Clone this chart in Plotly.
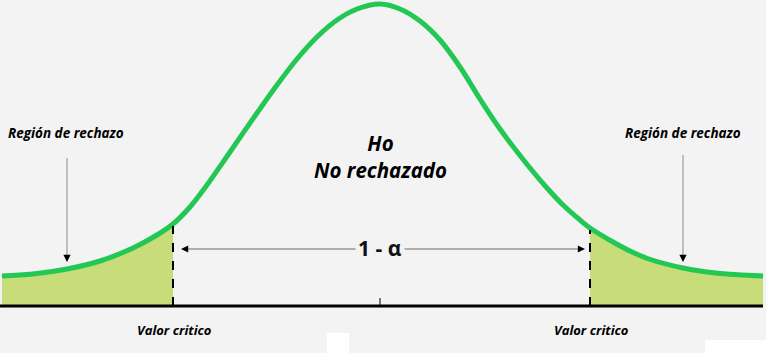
import plotly.graph_objects as go

# Curve: horizontal position and height above the baseline
curve_x = [2, 33, 67, 100, 133, 157, 173, 190, 207, 230, 257, 277, 297, 317, 337, 357, 380,
           400, 420, 440, 460, 480, 500, 530, 547, 563, 580, 590, 613, 630, 649, 683, 716, 763]
curve_h = [30, 32, 37, 45, 58, 71, 82, 99, 121, 154, 193, 221, 247, 269, 286, 297, 302,
           297, 285, 266, 239, 207, 177, 138, 118, 101, 86, 78, 64, 55, 47, 38, 33, 30]

crit_left = 173
crit_right = 590
center = 380

BG = "#f3f3f3"
GREEN = "#22c853"
FILL = "#c8dc7a"

fig = go.Figure()

left_x = [x for x in curve_x if x <= crit_left]
left_h = [h for x, h in zip(curve_x, curve_h) if x <= crit_left]
right_x = [x for x in curve_x if x >= crit_right]
right_h = [h for x, h in zip(curve_x, curve_h) if x >= crit_right]

for xs, hs in [(left_x, left_h), (right_x, right_h)]:
    fig.add_trace(go.Scatter(x=xs, y=hs, mode="lines", fill="tozeroy",
                             fillcolor=FILL, line=dict(width=0, shape="spline"),
                             hoverinfo="skip", showlegend=False))

fig.add_trace(go.Scatter(x=curve_x, y=curve_h, mode="lines",
                         line=dict(color=GREEN, width=5, shape="spline"),
                         hoverinfo="skip", showlegend=False))

shapes = []
# baseline
shapes.append(dict(type="line", x0=0, x1=763, y0=0, y1=0, line=dict(color="black", width=3), layer="above"))
# centre tick
shapes.append(dict(type="line", x0=center, x1=center, y0=0, y1=8, line=dict(color="black", width=1)))
# dashed critical lines
h_left = curve_h[curve_x.index(crit_left)]
h_right = curve_h[curve_x.index(crit_right)]
shapes.append(dict(type="line", x0=crit_left, x1=crit_left, y0=0, y1=h_left - 2,
                   line=dict(color="black", width=2, dash="dash")))
shapes.append(dict(type="line", x0=crit_right, x1=crit_right, y0=0, y1=h_right - 2,
                   line=dict(color="black", width=2, dash="dash")))
# 1 - alpha horizontal line
shapes.append(dict(type="line", x0=183, x1=583, y0=57, y1=57, line=dict(color="#6a6a6a", width=1)))
# rejection region pointers (gray shafts)
shapes.append(dict(type="line", x0=67, x1=67, y0=148, y1=50, line=dict(color="#8a8a8a", width=1)))
shapes.append(dict(type="line", x0=683, x1=683, y0=151, y1=50, line=dict(color="#8a8a8a", width=1)))
# white artefact patches at the bottom
shapes.append(dict(type="rect", x0=327, x1=349, y0=-27, y1=-47, fillcolor="white", line=dict(width=0)))
shapes.append(dict(type="rect", x0=705, x1=766, y0=-34, y1=-47, fillcolor="white", line=dict(width=0)))

FONT = "Open Sans"
ann = []
ann.append(dict(x=center, y=150, text="Ho<br>No rechazado", showarrow=False, align="center",
                font=dict(family=FONT, size=20.5, color="black", weight="bold", style="italic")))
ann.append(dict(x=center, y=58, text="1 - α", showarrow=False, bgcolor=BG, borderpad=2,
                font=dict(family=FONT, size=21, color="#111111", weight="bold")))
for xr, yr in [(66, 173), (683, 173)]:
    ann.append(dict(x=xr, y=yr, text="Región de rechazo", showarrow=False,
                    font=dict(family=FONT, size=13.5, color="black", weight="bold", style="italic")))
for xv in [crit_left, crit_right]:
    ann.append(dict(x=xv + 1, y=-24, text="Valor critico", showarrow=False,
                    font=dict(family=FONT, size=13, color="black", weight="bold", style="italic")))
# arrowheads
for xa, ya, axp, ayp in [(67, 44, 0, -8), (683, 44, 0, -8), (181, 57, 8, 0), (585, 57, -8, 0)]:
    ann.append(dict(x=xa, y=ya, ax=axp, ay=ayp, showarrow=True, text="", arrowhead=2,
                    arrowsize=1.2, arrowwidth=1.2, arrowcolor="black"))

fig.update_layout(
    width=766, height=353, margin=dict(l=0, r=0, t=0, b=0),
    paper_bgcolor=BG, plot_bgcolor=BG,
    xaxis=dict(range=[0, 766], visible=False, fixedrange=True),
    yaxis=dict(range=[-47, 306], visible=False, fixedrange=True),
    shapes=shapes, annotations=ann, showlegend=False,
)

fig.write_html("out.html")
